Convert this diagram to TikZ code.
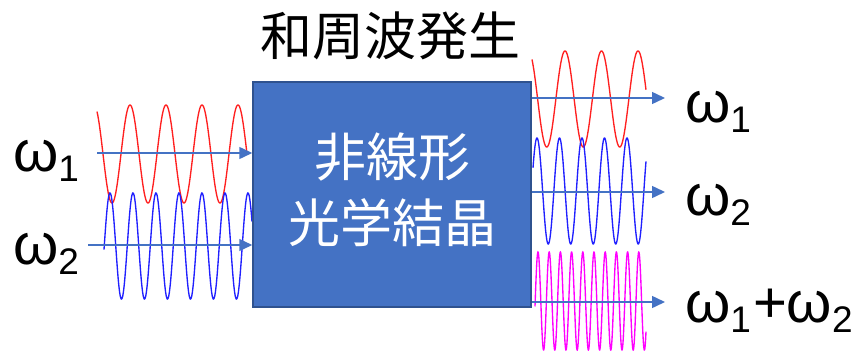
\documentclass[tikz,border=0pt]{standalone}
\usepackage{fontspec}
\setmainfont{Liberation Sans}
\newfontfamily\jpfont{Noto Sans CJK JP}
\usetikzlibrary{arrows.meta}
\definecolor{boxblue}{HTML}{4472C4}
\definecolor{boxedge}{HTML}{2F528F}
\definecolor{wred}{HTML}{FF2020}
\definecolor{wblue}{HTML}{2020FF}
\definecolor{wmag}{HTML}{FF00FF}
\tikzset{
  wave/.style={line width=1.35pt},
  arr/.style={boxblue, line width=1.5pt, -{Triangle[length=13pt,width=12pt]}},
  lbl/.style={anchor=base west, inner sep=0pt, font=\fontsize{58}{58}\selectfont},
}
\newcommand{\subdig}[1]{\raisebox{-10pt}{\fontsize{37}{37}\selectfont #1}}
\begin{document}
\begin{tikzpicture}[x=1pt,y=-1pt]
\useasboundingbox (0,0) rectangle (863,351);
% waves left
\draw[wred,wave] plot[domain=97:247,samples=300] (\x,{154-49*cos((360/36)*(\x-130))});
\draw[wblue,wave] plot[domain=104:252,samples=400] (\x,{246-53*cos((360/23)*(\x-110))});
% waves right
\draw[wred,wave] plot[domain=532:646,samples=300] (\x,{99-48*cos((360/36.5)*(\x-565))});
\draw[wblue,wave] plot[domain=533:646,samples=400] (\x,{191-53*cos((360/22.5)*(\x-537))});
\draw[wmag,wave] plot[domain=535:646,samples=600] (\x,{301-49*cos((360/11.2)*(\x-538))});
% box
\node[fill=boxblue, draw=boxedge, line width=1.5pt, minimum width=278pt, minimum height=225pt, inner sep=0pt] (box) at (392,194.5) {};
\node[text=white, inner sep=0pt, align=center, font=\jpfont\fontsize{52}{66}\selectfont] (txt) at (392,190) {非線形\\光学結晶};
\node[inner sep=0pt, font=\jpfont\fontsize{52}{52}\selectfont] (title) at (390,36) {和周波発生};
% coordinates
\coordinate (i1) at (97,153);
\coordinate (i2) at (88,245);
\coordinate (o1) at (665,98);
\coordinate (o2) at (665,192);
\coordinate (o3) at (665,302);
% arrows
\draw[arr] (i1) -- (i1 -| box.west);
\draw[arr] (i2) -- (i2 -| box.west);
\draw[arr] (o1 -| box.east) -- (o1);
\draw[arr] (o2 -| box.east) -- (o2);
\draw[arr] (o3 -| box.east) -- (o3);
% labels
\node[lbl] (l1) at (13,171) {ω\subdig{1}};
\node[lbl] (l2) at (13,264) {ω\subdig{2}};
\node[lbl] (r1) at (685,122) {ω\subdig{1}};
\node[lbl] (r2) at (685,215) {ω\subdig{2}};
\node[lbl] (r3) at (685,322) {ω\subdig{1}\kern2pt+ω\subdig{2}};
\end{tikzpicture}
\end{document}
